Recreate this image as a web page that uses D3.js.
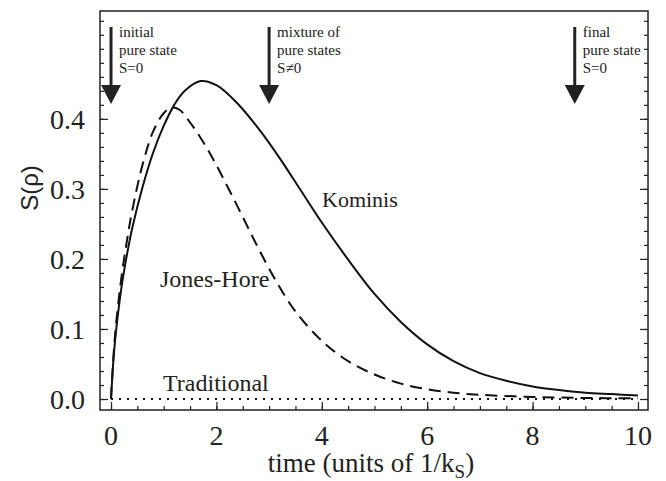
<!DOCTYPE html>
<html>
<head>
<meta charset="utf-8">
<script src="https://cdn.jsdelivr.net/npm/d3@7"></script>
<style>
  body { margin: 0; background: #fff; }
  text { font-family: "Liberation Serif", "Times New Roman", serif; fill: #222; }
</style>
</head>
<body>
<div id="chart"></div>
<script>
// data
const tKominis = [0, 0.05, 0.1, 0.2, 0.3, 0.4, 0.6, 0.8, 1.0, 1.2, 1.4, 1.7, 2.0, 2.4, 2.8, 3.2, 3.6, 4.0, 4.5, 5.0, 5.5, 6.0, 6.5, 7.0, 7.5, 8.0, 8.5, 9.0, 9.5, 10];
const sKominis = [0, 0.06, 0.10, 0.16, 0.205, 0.243, 0.303, 0.352, 0.39, 0.42, 0.44, 0.454, 0.448, 0.422, 0.386, 0.344, 0.298, 0.252, 0.199, 0.150, 0.110, 0.078, 0.054, 0.037, 0.026, 0.018, 0.013, 0.009, 0.007, 0.005];

const tJones = [0, 0.05, 0.1, 0.2, 0.3, 0.4, 0.6, 0.8, 1.0, 1.15, 1.3, 1.46, 1.63, 1.82, 1.97, 2.13, 2.32, 2.5, 2.69, 2.88, 3.15, 3.5, 4.0, 4.5, 5.0, 5.5, 6.0, 6.5, 7.0, 8.0, 9.0, 10];
const sJones = [0, 0.065, 0.11, 0.175, 0.225, 0.268, 0.335, 0.382, 0.408, 0.416, 0.413, 0.399, 0.381, 0.358, 0.338, 0.315, 0.287, 0.26, 0.231, 0.203, 0.166, 0.125, 0.083, 0.054, 0.035, 0.022, 0.014, 0.009, 0.006, 0.003, 0.0015, 0.001];

const tTrad = [0, 10];
const sTrad = [0, 0];

const xTicks = [0, 2, 4, 6, 8, 10];
const yTicks = [0.0, 0.1, 0.2, 0.3, 0.4];

const arrowT = [0, 3, 8.8];
const arrowText = [
  ["initial", "pure state", "S=0"],
  ["mixture of", "pure states", "S\u22600"],
  ["final", "pure state", "S=0"]
];

// dimensions & margins
const W = 666, H = 481;
const margin = {top: 11, right: 18, bottom: 71, left: 100};

const svg = d3.select("#chart").append("svg").attr("width", W).attr("height", H);

const x = d3.scaleLinear().domain([-0.209, 10.19]).range([margin.left, W - margin.right]);
const y = d3.scaleLinear().domain([-0.0157, 0.554]).range([H - margin.bottom, margin.top]);

// axes (ticks inward)
const minorX = d3.range(0, 10.01, 0.5);
const minorY = d3.range(0, 0.5501, 0.02);

svg.append("g").attr("transform", `translate(0,${H - margin.bottom})`)
   .call(d3.axisTop(x).tickValues(minorX).tickSize(4).tickFormat(""))
   .call(g => g.select(".domain").remove());
svg.append("g").attr("transform", `translate(0,${H - margin.bottom})`)
   .call(d3.axisTop(x).tickValues(xTicks).tickSize(8).tickFormat(""))
   .call(g => g.select(".domain").remove());
svg.append("g").selectAll("text").data(xTicks).join("text")
   .attr("x", d => x(d)).attr("y", H - margin.bottom + 35)
   .attr("text-anchor", "middle").style("font-size", "28px").text(d => d);

[margin.left, W - margin.right].forEach((px, i) => {
  const ax = i === 0 ? d3.axisRight(y) : d3.axisLeft(y);
  svg.append("g").attr("transform", `translate(${px},0)`)
     .call(ax.tickValues(minorY).tickSize(4).tickFormat(""))
     .call(g => g.select(".domain").remove());
  svg.append("g").attr("transform", `translate(${px},0)`)
     .call((i === 0 ? d3.axisRight(y) : d3.axisLeft(y)).tickValues(yTicks).tickSize(8).tickFormat(""))
     .call(g => g.select(".domain").remove());
});
svg.append("g").selectAll("text").data(yTicks).join("text")
   .attr("x", margin.left - 15).attr("y", d => y(d)).attr("dy", "0.35em")
   .attr("text-anchor", "end").style("font-size", "28px").text(d => d.toFixed(1));

svg.selectAll(".tick line").attr("stroke", "#222").attr("stroke-width", 1.2);

// frame
svg.append("rect").attr("x", margin.left).attr("y", margin.top)
   .attr("width", W - margin.left - margin.right).attr("height", H - margin.top - margin.bottom)
   .attr("fill", "none").attr("stroke", "#222").attr("stroke-width", 1.5);

// curves
const line = d3.line().x(d => x(d[0])).y(d => y(d[1])).curve(d3.curveCatmullRom.alpha(0.5));
svg.append("path").datum(d3.zip(tTrad, sTrad)).attr("d", line)
   .attr("fill", "none").attr("stroke", "#111").attr("stroke-width", 2).attr("stroke-dasharray", "2,6");
svg.append("path").datum(d3.zip(tJones, sJones)).attr("d", line)
   .attr("fill", "none").attr("stroke", "#111").attr("stroke-width", 2).attr("stroke-dasharray", "12,7");
svg.append("path").datum(d3.zip(tKominis, sKominis)).attr("d", line)
   .attr("fill", "none").attr("stroke", "#111").attr("stroke-width", 2);

// curve labels
svg.append("text").attr("x", 322).attr("y", 207).style("font-size", "22px").text("Kominis");
svg.append("text").attr("x", 160).attr("y", 287).style("font-size", "24px").text("Jones-Hore");
svg.append("text").attr("x", 163).attr("y", 391).style("font-size", "24px").text("Traditional");

// arrows
arrowT.forEach((t, i) => {
  const ax = x(t);
  svg.append("line").attr("x1", ax).attr("x2", ax).attr("y1", 27).attr("y2", 88)
     .attr("stroke", "#222").attr("stroke-width", 3);
  svg.append("path").attr("d", `M${ax - 10},85 L${ax + 10},85 L${ax},104 Z`).attr("fill", "#222");
  svg.append("g").selectAll("text").data(arrowText[i]).join("text")
     .attr("x", ax + 8).attr("y", (d, j) => 37 + j * 18)
     .style("font-size", "15px").text(d => d);
});

// axis titles
const xt = svg.append("text").attr("x", 371).attr("y", 472).attr("text-anchor", "middle").style("font-size", "27px");
xt.append("tspan").text("time (units of 1/k");
xt.append("tspan").attr("dy", 6).style("font-size", "19px").text("S");
xt.append("tspan").attr("dy", -6).text(")");
svg.append("text").attr("transform", "translate(38,188) rotate(-90)").attr("text-anchor", "middle")
   .style("font-family", "'Liberation Sans', Arial, sans-serif").style("font-size", "24px").text("S(\u03c1)");
</script>
</body>
</html>
